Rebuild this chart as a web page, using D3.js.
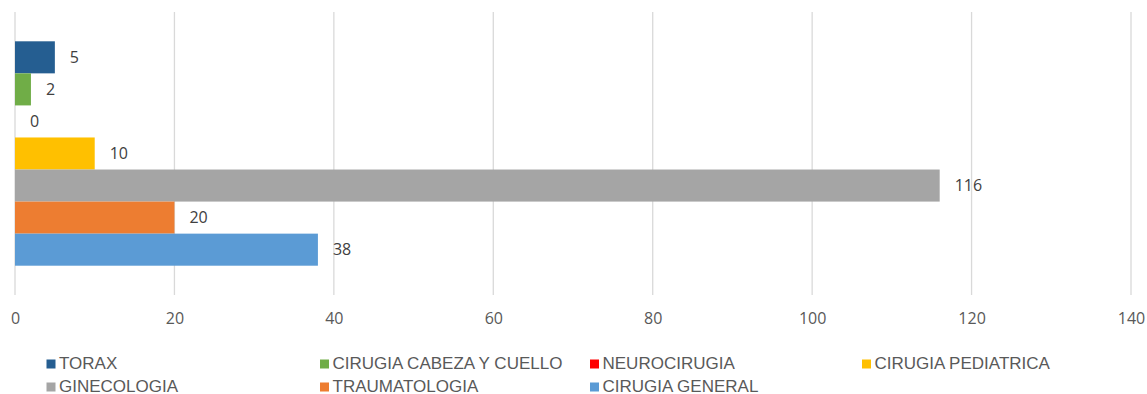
<!DOCTYPE html>
<html>
<head>
	<script src="https://cdn.jsdelivr.net/npm/d3@7"></script>
	<style>
		html, body {
			padding: 0;
			margin: 0;
			background: white;
		}
	</style>
</head>
<body>
	<div id="chart"></div>
	<script>
		var width = 1147;
		var height = 394;

		// data
		var series = ["TORAX", "CIRUGIA CABEZA Y CUELLO", "NEUROCIRUGIA", "CIRUGIA PEDIATRICA",
			"GINECOLOGIA", "TRAUMATOLOGIA", "CIRUGIA GENERAL"];
		var values = [5, 2, 0, 10, 116, 20, 38];
		var colors = ["#255E91", "#70AD47", "#FF0000", "#FFC000", "#A5A5A5", "#ED7D31", "#5B9BD5"];
		var ticks = [0, 20, 40, 60, 80, 100, 120, 140];

		var svg = d3.select('#chart').append('svg')
			.attr('width', width)
			.attr('height', height);

		var plotTop = 12, plotBottom = 295;

		var x = d3.scaleLinear().domain([0, 140]).range([15, 1131]);
		var y = d3.scaleBand().domain(series).range([plotTop, plotBottom])
			.paddingInner(0).paddingOuter(0.914);

		//gridlines
		svg.selectAll("line.grid")
			.data(ticks)
			.enter().append("line")
			.attr("class", "grid")
			.attr("x1", function(d) { return x(d); })
			.attr("x2", function(d) { return x(d); })
			.attr("y1", plotTop)
			.attr("y2", plotBottom)
			.style("stroke", "#d9d9d9")
			.style("stroke-width", 1.3);

		//axis
		var axis = svg.append("g")
			.attr("transform", "translate(0," + plotBottom + ")")
			.call(d3.axisBottom(x).tickValues(ticks).tickSize(0).tickPadding(18));
		axis.select(".domain").remove();
		axis.selectAll("text")
			.style("font", "16px 'Open Sans', sans-serif")
			.style("fill", "#595959");

		//bars
		svg.selectAll("rect.bar")
			.data(series)
			.enter().append("rect")
			.attr("class", "bar")
			.attr("x", x(0))
			.attr("y", function(d) { return y(d); })
			.attr("width", function(d, i) { return x(values[i]) - x(0); })
			.attr("height", y.bandwidth())
			.style("fill", function(d, i) { return colors[i]; });

		//labels
		svg.selectAll("text.lbl")
			.data(series)
			.enter().append("text")
			.attr("class", "lbl")
			.attr("x", function(d, i) { return x(values[i]) + 15; })
			.attr("y", function(d) { return y(d) + y.bandwidth() / 2; })
			.attr("dy", "0.35em")
			.style("font", "16px 'Open Sans', sans-serif")
			.style("fill", "#404040")
			.text(function(d, i) { return values[i]; });

		//legend (y = text baseline)
		var legX = [46.5, 320, 590, 862];
		var legY = [368.5, 391.5];
		var leg = svg.selectAll("g.leg")
			.data(series)
			.enter().append("g")
			.attr("class", "leg")
			.attr("transform", function(d, i) {
				return "translate(" + legX[i % 4] + "," + legY[Math.floor(i / 4)] + ")";
			});
		leg.append("rect")
			.attr("x", 0)
			.attr("y", -9)
			.attr("width", 9)
			.attr("height", 9)
			.style("fill", function(d, i) { return colors[i]; });
		leg.append("text")
			.attr("x", 12.5)
			.style("font", "17px 'Liberation Sans', Arial, sans-serif")
			.style("fill", "#595959")
			.text(function(d) { return d; });
	</script>
</body>
</html>
